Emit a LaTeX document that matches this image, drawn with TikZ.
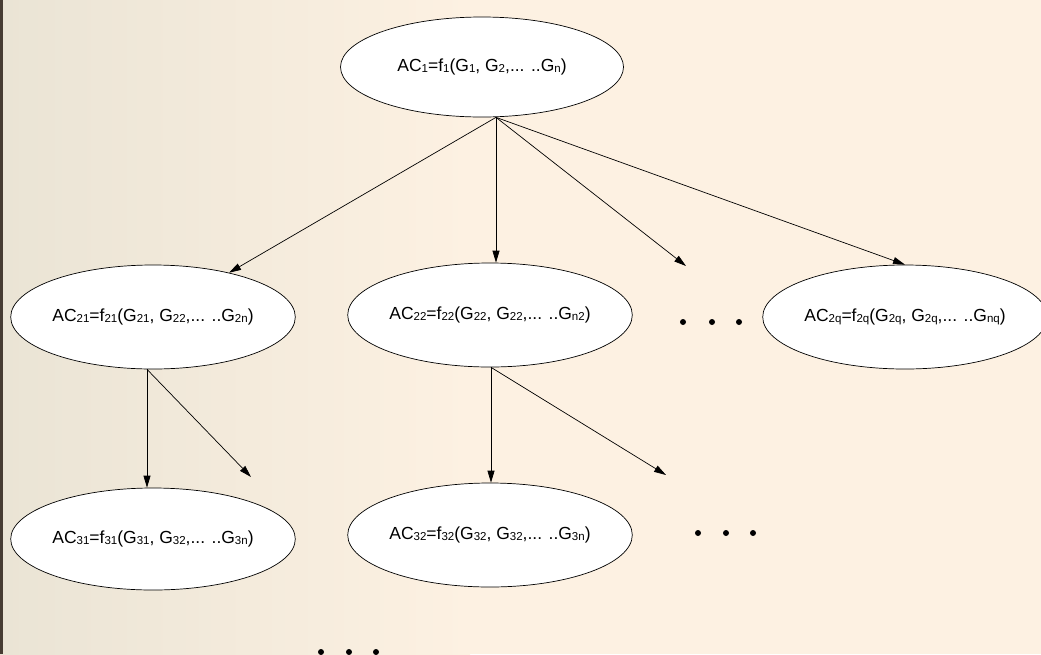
\documentclass[tikz,border=0pt]{standalone}
\usepackage{fontspec}
\setmainfont{Liberation Sans}
\usetikzlibrary{arrows.meta,shapes.geometric}
\definecolor{paper}{HTML}{FDF1E2}
\definecolor{photo}{HTML}{EAE4D5}
\definecolor{frame}{HTML}{463C33}
% small index used inside the formulas
\newcommand\sbx[1]{\raisebox{-0.1ex}{\fontsize{11.5}{11.5}\selectfont #1}}

\begin{document}
\begin{tikzpicture}[x=1pt,y=-1pt,
  fn/.style={ellipse, draw=black, line width=0.7pt, fill=white,
    minimum width=283pt, minimum height=104pt, inner sep=0pt,
    font=\fontsize{17.5}{20}\selectfont},
  link/.style={-{Triangle[length=12pt,width=7pt]}, line width=0.7pt},
  dot/.style={circle, fill=black, inner sep=0pt, minimum size=6pt}]
\useasboundingbox (0,0) rectangle (1041,654);
\clip (0,0) rectangle (1041,654);

% background
\fill[paper] (0,0) rectangle (1041,654);
\shade[left color=photo, right color=paper] (0,0) rectangle (470,654);
\fill[frame] (0,0) rectangle (2.5,654);

% function nodes
\node[fn, minimum height=100pt] (AC1) at (482,67)
  {AC\sbx{1}=f\sbx{1}(G\sbx{1}, G\sbx{2},... ..G\sbx{n})};
\node[fn] (AC21) at (153,317)
  {AC\sbx{21}=f\sbx{21}(G\sbx{21}, G\sbx{22},... ..G\sbx{2n})};
\node[fn] (AC22) at (490,315)
  {AC\sbx{22}=f\sbx{22}(G\sbx{22}, G\sbx{22},... ..G\sbx{n2})};
\node[fn, minimum width=272pt] (AC2q) at (905,317)
  {AC\sbx{2q}=f\sbx{2q}(G\sbx{2q}, G\sbx{2q},... ..G\sbx{nq})};
\node[fn, minimum height=102pt] (AC31) at (153,539)
  {AC\sbx{31}=f\sbx{31}(G\sbx{31}, G\sbx{32},... ..G\sbx{3n})};
\node[fn] (AC32) at (490,535)
  {AC\sbx{32}=f\sbx{32}(G\sbx{32}, G\sbx{32},... ..G\sbx{3n})};

% ellipsis marks
\node[dot] (d1) at (683,322) {};
\node[dot] (d2) at (712,322) {};
\node[dot] (d3) at (739,322) {};
\node[dot] (d4) at (698,533) {};
\node[dot] (d5) at (726,533) {};
\node[dot] (d6) at (753,533) {};
\node[dot] (d7) at (321,652) {};
\node[dot] (d8) at (349,652) {};
\node[dot] (d9) at (376,652) {};

% arrow origins and open ends
\coordinate (s1) at ([xshift=14pt]AC1.south);
\coordinate (s2) at ([xshift=-6pt]AC21.south);
\coordinate (s3) at ([xshift=1pt]AC22.south);
\coordinate (e1) at (686,266);
\coordinate (e2) at (251,477);
\coordinate (e3) at (666,475);

% connectors
\draw[link] (s1) -- (AC21);
\draw[link] (s1) -- (s1 |- AC22.north);
\draw[link] (s1) -- (e1);
\draw[link] (s1) -- (AC2q.north);
\draw[link] (s2) -- (s2 |- AC31.north);
\draw[link] (s2) -- (e2);
\draw[link] (s3) -- (s3 |- AC32.north);
\draw[link] (s3) -- (e3);
\end{tikzpicture}
\end{document}
